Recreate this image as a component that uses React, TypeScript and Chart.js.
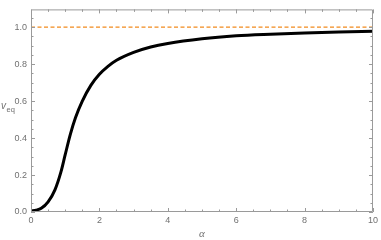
import React, { useEffect, useRef } from "react";
import { Chart, registerables } from "chart.js";

Chart.register(...registerables);

const alphaValues = [0, 0.15, 0.3, 0.5, 0.7, 0.88, 1.0, 1.15, 1.3, 1.5, 1.75, 2.0, 2.25, 2.5, 3.0, 3.5, 4.0, 5.0, 6.0, 7.0, 8.0, 9.0, 10];
const veqValues = [0.005, 0.01, 0.02, 0.055, 0.12, 0.22, 0.31, 0.42, 0.51, 0.6, 0.685, 0.745, 0.788, 0.821, 0.864, 0.893, 0.912, 0.937, 0.953, 0.962, 0.969, 0.974, 0.978];
const refAlpha = [0, 10];
const refValue = [1, 1];
const xTicks = [0, 2, 4, 6, 8, 10];
const yTicks = [0, 0.2, 0.4, 0.6, 0.8, 1.0];
const xMinorStep = 0.5;
const yMinorStep = 0.05;
const xRange = [0, 10];
const yRange = [0, 1.096];

const FRAME = "#9a9a9a";
const TEXT = "#707070";

const framePlugin = {
  id: "frameTicks",
  afterDraw(chart: any) {
    const { ctx, chartArea } = chart;
    const { left, right, top, bottom } = chartArea;
    const xs = chart.scales.x;
    const ys = chart.scales.y;
    ctx.save();
    ctx.strokeStyle = FRAME;
    ctx.lineWidth = 1;
    ctx.beginPath();
    ctx.rect(left + 0.5, top + 0.5, right - left - 1, bottom - top - 1);
    ctx.stroke();
    ctx.beginPath();
    for (let v = xRange[0]; v <= xRange[1] + 1e-9; v += xMinorStep) {
      const major = xTicks.some((t) => Math.abs(t - v) < 1e-9);
      const len = major ? 4 : 2.5;
      const px = Math.round(xs.getPixelForValue(v)) + 0.5;
      ctx.moveTo(px, bottom);
      ctx.lineTo(px, bottom - len);
      ctx.moveTo(px, top);
      ctx.lineTo(px, top + len);
    }
    for (let v = yRange[0]; v <= yRange[1] + 1e-9; v += yMinorStep) {
      const major = yTicks.some((t) => Math.abs(t - v) < 1e-9);
      const len = major ? 4 : 2.5;
      const py = Math.round(ys.getPixelForValue(v)) + 0.5;
      ctx.moveTo(left, py);
      ctx.lineTo(left + len, py);
      ctx.moveTo(right, py);
      ctx.lineTo(right - len, py);
    }
    ctx.stroke();

    ctx.fillStyle = TEXT;
    ctx.textBaseline = "alphabetic";
    ctx.font = "italic 11px 'Liberation Serif', 'DejaVu Serif', serif";
    ctx.textAlign = "center";
    ctx.fillText("α", (left + right) / 2, 237);

    ctx.textAlign = "left";
    ctx.font = "italic 10px 'Liberation Sans', sans-serif";
    ctx.fillText("v", 1, 109);
    ctx.font = "7.5px 'Liberation Sans', sans-serif";
    ctx.fillText("eq", 6.5, 111.5);
    ctx.restore();
  },
};

export default function App() {
  const canvasRef = useRef<HTMLCanvasElement | null>(null);

  useEffect(() => {
    document.body.style.margin = "0";
    const canvas = canvasRef.current;
    if (!canvas) return;
    const chart = new Chart(canvas, {
      type: "line",
      data: {
        datasets: [
          {
            data: refAlpha.map((a, i) => ({ x: a, y: refValue[i] })),
            borderColor: "#f28b1e",
            borderWidth: 1.4,
            borderDash: [4, 2.5],
            pointRadius: 0,
            fill: false,
          },
          {
            data: alphaValues.map((a, i) => ({ x: a, y: veqValues[i] })),
            borderColor: "#000000",
            borderWidth: 3,
            pointRadius: 0,
            cubicInterpolationMode: "monotone",
            fill: false,
          },
        ],
      },
      options: {
        responsive: false,
        animation: false,
        devicePixelRatio: 1,
        layout: { padding: { top: 1, right: 5, left: 0, bottom: 0 } },
        plugins: { legend: { display: false }, tooltip: { enabled: false } },
        scales: {
          x: {
            type: "linear",
            min: xRange[0],
            max: xRange[1],
            afterBuildTicks: (s: any) => {
              s.ticks = xTicks.map((v) => ({ value: v }));
            },
            afterFit: (s: any) => {
              s.height = 28;
            },
            grid: { display: false, drawTicks: false },
            border: { display: false },
            ticks: {
              color: TEXT,
              padding: 3,
              maxRotation: 0,
              font: { family: "'Liberation Sans', sans-serif", size: 9 },
              callback: (v: any) => String(v),
            },
          },
          y: {
            type: "linear",
            min: yRange[0],
            max: yRange[1],
            afterBuildTicks: (s: any) => {
              s.ticks = yTicks.map((v) => ({ value: v }));
            },
            afterFit: (s: any) => {
              s.width = 31;
            },
            grid: { display: false, drawTicks: false },
            border: { display: false },
            ticks: {
              color: TEXT,
              padding: 4,
              font: { family: "'Liberation Sans', sans-serif", size: 9 },
              callback: (v: any) => Number(v).toFixed(1),
            },
          },
        },
      },
      plugins: [framePlugin],
    } as any);
    return () => chart.destroy();
  }, []);

  return (
    <div style={{ position: "fixed", left: 0, top: 0, width: 381, height: 240 }}>
      <canvas ref={canvasRef} width={381} height={240} style={{ width: 381, height: 240 }} />
    </div>
  );
}
